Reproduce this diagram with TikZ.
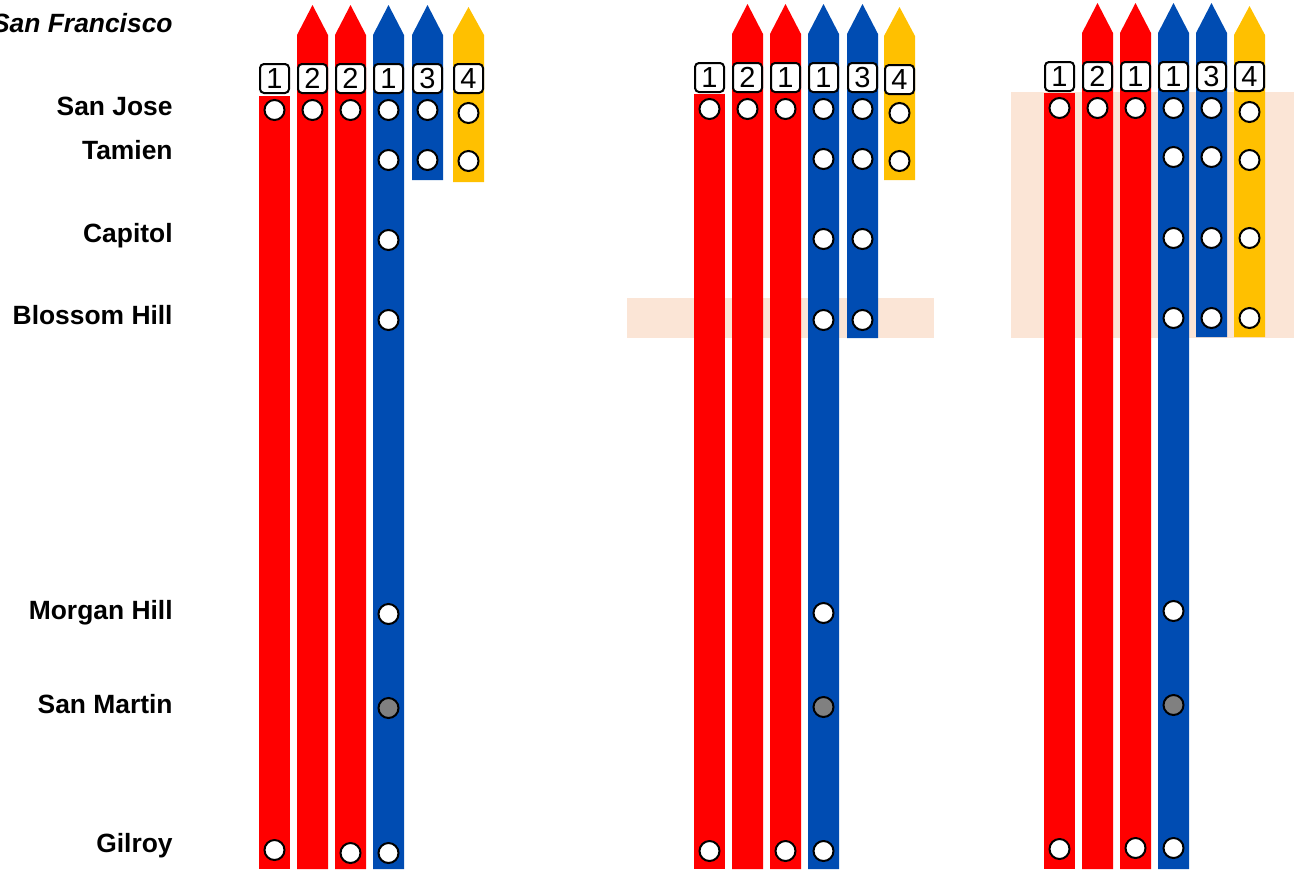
\documentclass[tikz,border=0pt]{standalone}
\usepackage{fontspec}
\setmainfont{Liberation Sans}
\definecolor{cred}{RGB}{255,0,0}
\definecolor{cblue}{RGB}{0,76,178}
\definecolor{cyel}{RGB}{255,192,0}
\definecolor{cpeach}{RGB}{251,229,214}
\definecolor{cgrey}{RGB}{128,128,128}
\newcommand\plainbar[4]{\fill[#2] (#1,#3) rectangle (#1+31,#4);}
\newcommand\arrbar[5]{\fill[#2] (#1,#5) -- (#1,#4) -- (#1+15.5,#3) -- (#1+31,#4) -- (#1+31,#5) -- cycle;}
\tikzset{
  stn/.style={circle,draw=black,fill=white,line width=1pt,minimum size=10pt,inner sep=0pt},
  stngrey/.style={stn,fill=cgrey},
  num/.style={draw=black,fill=white,line width=1pt,rounded corners=2pt,minimum size=14.5pt,inner sep=0pt,font=\fontsize{14.5}{15}\selectfont},
  lbl/.style={anchor=base east,inner sep=0pt,font=\fontsize{13.2}{15}\selectfont\bfseries},
  hl/.style={fill=cpeach}
}
\begin{document}
\begin{tikzpicture}[x=0.5pt,y=-0.5pt]
\useasboundingbox (0,0) rectangle (1294,869);
% highlights
\fill[hl] (627,298) rectangle (934,338);
\fill[hl] (1011,92) rectangle (1294,338);
% labels
\node[lbl,font=\fontsize{13.2}{15}\selectfont\bfseries\itshape] (lsf) at (173,32) {San Francisco};
\node[lbl] (lsj) at (173,115) {San Jose};
\node[lbl] (lta) at (173,159) {Tamien};
\node[lbl] (lca) at (173,242) {Capitol};
\node[lbl] (lbh) at (173,324) {Blossom Hill};
\node[lbl] (lmh) at (173,619) {Morgan Hill};
\node[lbl] (lsm) at (173,713) {San Martin};
\node[lbl] (lgi) at (173,852) {Gilroy};
% ---------- panel 1
\plainbar{259}{cred}{96}{869}
\arrbar{297}{cred}{5}{35}{869}
\arrbar{335}{cred}{5}{35}{869}
\arrbar{373}{cblue}{5}{35}{869}
\arrbar{412}{cblue}{5}{35}{180}
\arrbar{453}{cyel}{7}{35}{182}
\node[num] (a1) at (274.5,78.5) {1};
\node[num] (a2) at (312.5,78.5) {2};
\node[num] (a3) at (350.5,78.5) {2};
\node[num] (a4) at (388.5,78.5) {1};
\node[num] (a5) at (427.5,78.5) {3};
\node[num] (a6) at (468.5,78.5) {4};
\node[stn] (a1sj) at (274.5,110) {};
\node[stn] (a2sj) at (312.5,110) {};
\node[stn] (a3sj) at (350.5,110) {};
\node[stn] (a4sj) at (388.5,110) {};
\node[stn] (a5sj) at (427.5,110) {};
\node[stn] (a6sj) at (468.5,113) {};
\node[stn] (a4ta) at (388.5,160) {};
\node[stn] (a5ta) at (427.5,160) {};
\node[stn] (a6ta) at (468.5,161) {};
\node[stn] (a4ca) at (388.5,240) {};
\node[stn] (a4bh) at (388.5,320) {};
\node[stn] (a4mh) at (388.5,614) {};
\node[stngrey] (a4sm) at (388.5,708) {};
\node[stn] (a1gi) at (274.5,850) {};
\node[stn] (a3gi) at (350.5,853) {};
\node[stn] (a4gi) at (388.5,853) {};
% ---------- panel 2
\plainbar{694}{cred}{94}{869}
\arrbar{732}{cred}{4}{34}{869}
\arrbar{770}{cred}{4}{34}{869}
\arrbar{808}{cblue}{4}{34}{869}
\arrbar{847}{cblue}{4}{34}{338}
\arrbar{884}{cyel}{7}{36}{180}
\node[num] (b1) at (709.5,77.5) {1};
\node[num] (b2) at (747.5,77.5) {2};
\node[num] (b3) at (785.5,77.5) {1};
\node[num] (b4) at (823.5,77.5) {1};
\node[num] (b5) at (862.5,77.5) {3};
\node[num] (b6) at (899.5,79.5) {4};
\node[stn] (b1sj) at (709.5,109) {};
\node[stn] (b2sj) at (747.5,109) {};
\node[stn] (b3sj) at (785.5,109) {};
\node[stn] (b4sj) at (823.5,109) {};
\node[stn] (b5sj) at (862.5,109) {};
\node[stn] (b6sj) at (899.5,113) {};
\node[stn] (b4ta) at (823.5,159) {};
\node[stn] (b5ta) at (862.5,159) {};
\node[stn] (b6ta) at (899.5,161) {};
\node[stn] (b4ca) at (823.5,239) {};
\node[stn] (b5ca) at (862.5,239) {};
\node[stn] (b4bh) at (823.5,320) {};
\node[stn] (b5bh) at (862.5,320) {};
\node[stn] (b4mh) at (823.5,613) {};
\node[stngrey] (b4sm) at (823.5,707) {};
\node[stn] (b1gi) at (709.5,851) {};
\node[stn] (b3gi) at (785.5,851) {};
\node[stn] (b4gi) at (823.5,851) {};
% ---------- panel 3
\plainbar{1044}{cred}{93}{869}
\arrbar{1082}{cred}{3}{33}{869}
\arrbar{1120}{cred}{3}{33}{869}
\arrbar{1158}{cblue}{3}{33}{869}
\arrbar{1196}{cblue}{3}{33}{337}
\arrbar{1234}{cyel}{6}{35}{337}
\node[num] (c1) at (1059.5,76.5) {1};
\node[num] (c2) at (1097.5,76.5) {2};
\node[num] (c3) at (1135.5,76.5) {1};
\node[num] (c4) at (1173.5,76.5) {1};
\node[num] (c5) at (1211.5,76.5) {3};
\node[num] (c6) at (1249.5,76.5) {4};
\node[stn] (c1sj) at (1059.5,108) {};
\node[stn] (c2sj) at (1097.5,108) {};
\node[stn] (c3sj) at (1135.5,108) {};
\node[stn] (c4sj) at (1173.5,108) {};
\node[stn] (c5sj) at (1211.5,108) {};
\node[stn] (c6sj) at (1249.5,112) {};
\node[stn] (c4ta) at (1173.5,157) {};
\node[stn] (c5ta) at (1211.5,157) {};
\node[stn] (c6ta) at (1249.5,160) {};
\node[stn] (c4ca) at (1173.5,238) {};
\node[stn] (c5ca) at (1211.5,238) {};
\node[stn] (c6ca) at (1249.5,238) {};
\node[stn] (c4bh) at (1173.5,318) {};
\node[stn] (c5bh) at (1211.5,318) {};
\node[stn] (c6bh) at (1249.5,318) {};
\node[stn] (c4mh) at (1173.5,611) {};
\node[stngrey] (c4sm) at (1173.5,705) {};
\node[stn] (c1gi) at (1059.5,849) {};
\node[stn] (c3gi) at (1135.5,848) {};
\node[stn] (c4gi) at (1173.5,848) {};
\end{tikzpicture}
\end{document}
